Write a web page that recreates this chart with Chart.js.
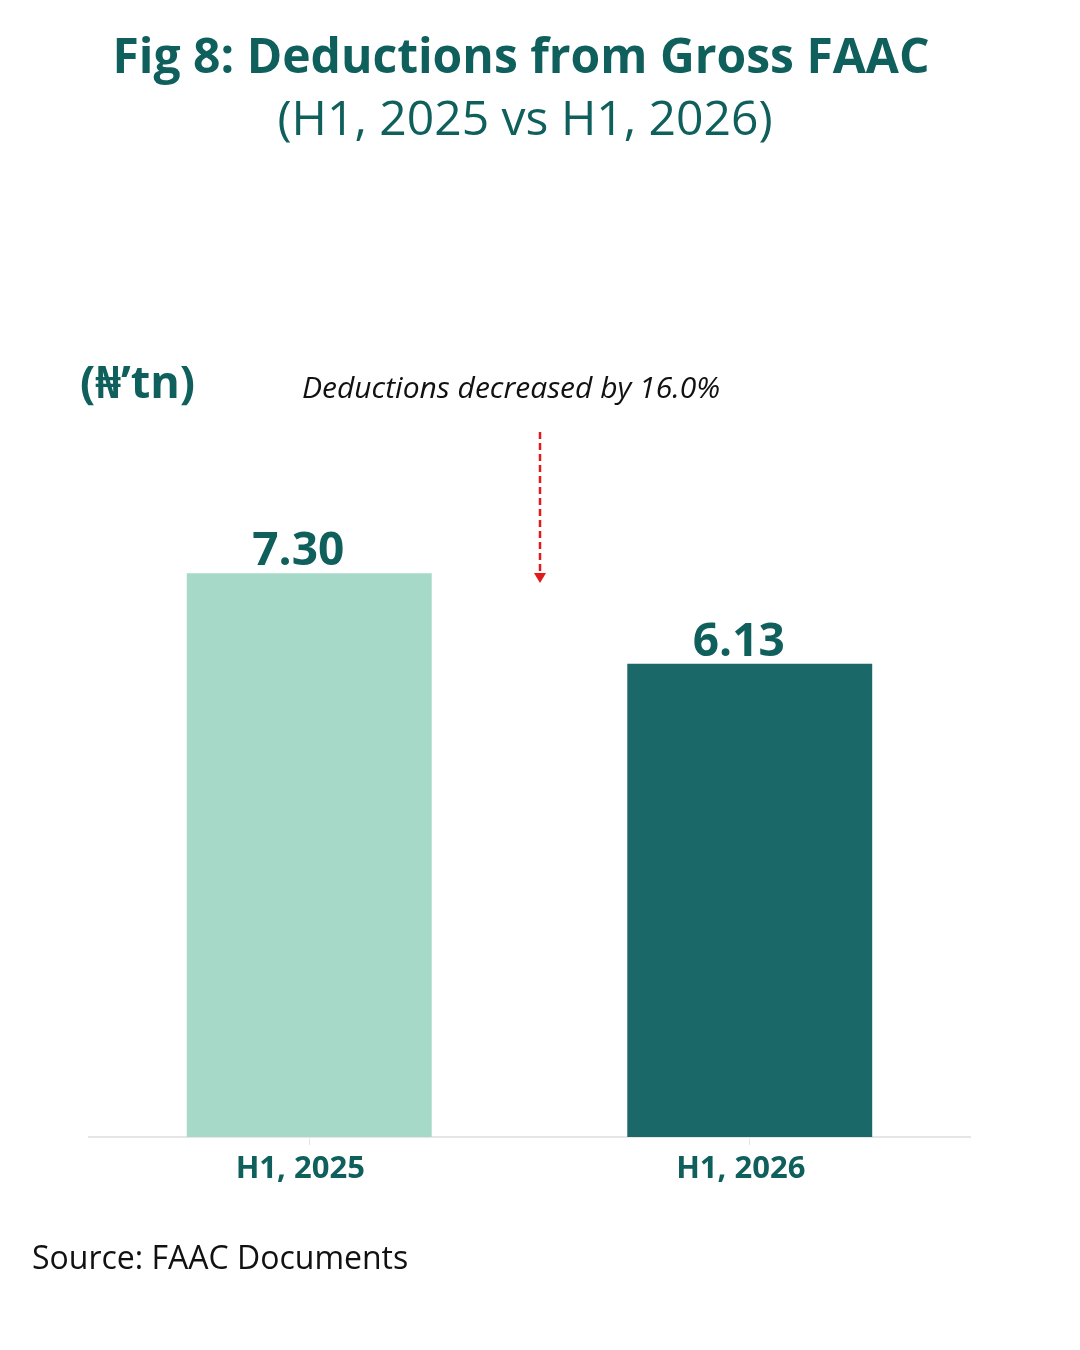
<!DOCTYPE html>
<html>
<head>
<meta charset="utf-8">
<script src="https://cdn.jsdelivr.net/npm/chart.js@4/dist/chart.umd.min.js"></script>
<style>
  html, body { margin: 0; padding: 0; background: #fff; }
  #c { display: block; }
</style>
</head>
<body>
<canvas id="c" width="1080" height="1350"></canvas>
<script>
const periods = ['H1, 2025', 'H1, 2026']
const deductions = [7.30, 6.13]
const barColors = ['#a6d9c7', '#1b6868']

const teal = '#0f5f5c'
const sans = '"Open Sans", "Noto Sans", "DejaVu Sans", sans-serif'

// titles, note, arrow, value labels and source line
const extras = {
  id: 'extras',
  afterDraw(chart) {
    const ctx = chart.ctx
    ctx.save()
    ctx.textAlign = 'center'
    ctx.textBaseline = 'alphabetic'
    ctx.fillStyle = teal
    ctx.font = 'bold 48px ' + sans
    ctx.fillText('Fig 8: Deductions from Gross FAAC', 521, 73)
    ctx.font = '48px ' + sans
    ctx.fillText('(H1, 2025 vs H1, 2026)', 525, 135)

    ctx.textAlign = 'left'
    ctx.font = 'bold 45px ' + sans
    ctx.fillText('(\u20A6\u2019tn)', 80, 398)

    ctx.fillStyle = '#111'
    ctx.font = 'italic 30px ' + sans
    ctx.fillText('Deductions decreased by 16.0%', 302, 398)

    // red dashed arrow
    ctx.strokeStyle = '#e31a1c'
    ctx.lineWidth = 2.5
    ctx.setLineDash([7, 4])
    ctx.beginPath()
    ctx.moveTo(540, 432)
    ctx.lineTo(540, 574)
    ctx.stroke()
    ctx.setLineDash([])
    ctx.fillStyle = '#e31a1c'
    ctx.beginPath()
    ctx.moveTo(534, 573)
    ctx.lineTo(546, 573)
    ctx.lineTo(540, 583)
    ctx.closePath()
    ctx.fill()

    // value labels
    const meta = chart.getDatasetMeta(0)
    ctx.textAlign = 'center'
    ctx.fillStyle = teal
    ctx.font = 'bold 46px ' + sans
    meta.data.forEach((bar, i) => {
      ctx.fillText(deductions[i].toFixed(2), bar.x - 11, bar.y - 8)
    })

    ctx.textAlign = 'left'
    ctx.fillStyle = '#111'
    ctx.font = '32px ' + sans
    ctx.fillText('Source: FAAC Documents', 32, 1269)
    ctx.restore()
  }
}

new Chart(document.getElementById('c'), {
  type: 'bar',
  data: {
    labels: periods,
    datasets: [{
      data: deductions,
      backgroundColor: barColors,
      borderWidth: 0,
      barPercentage: 0.556,
      categoryPercentage: 1
    }]
  },
  options: {
    responsive: false,
    devicePixelRatio: 1,
    animation: false,
    layout: { padding: { left: 89, right: 110, top: 442, bottom: 0 } },
    plugins: {
      legend: { display: false },
      tooltip: { enabled: false },
      title: { display: false }
    },
    scales: {
      y: { display: false, min: 0, max: 9 },
      x: {
        afterFit(scale) { scale.height = 213 },
        border: { display: true, color: '#e6e6e6', width: 2 },
        grid: { offset: false, drawOnChartArea: false, drawTicks: true, tickLength: 8, color: '#e6e6e6' },
        ticks: {
          color: teal,
          padding: 6,
          labelOffset: -9,
          font: { family: sans, size: 31, weight: 'bold' }
        }
      }
    }
  },
  plugins: [extras]
})
</script>
</body>
</html>
